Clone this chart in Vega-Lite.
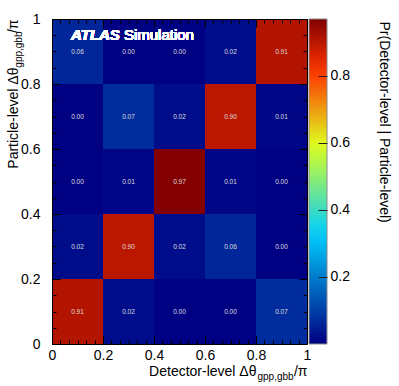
{
  "$schema": "https://vega.github.io/schema/vega-lite/v6.json",
  "width": 255,
  "height": 325,
  "autosize": {"type": "none"},
  "padding": {"left": 52, "top": 19, "right": 92, "bottom": 42},
  "background": "white",
  "config": {
    "view": {"stroke": null},
    "font": "Liberation Sans",
    "axis": {
      "zindex": 2,
      "grid": false,
      "domainColor": "black",
      "tickColor": "black",
      "tickOpacity": 1,
      "tickWidth": 1,
      "domainWidth": 1,
      "labelColor": "black",
      "titleColor": "black",
      "labelFont": "Liberation Sans",
      "titleFont": "Liberation Sans",
      "labelFontSize": 14,
      "titleFontSize": 14,
      "titleFontWeight": "normal",
      "labelFlush": false,
      "labelOverlap": false,
      "titleBaseline": "alphabetic",
      "titlePadding": 0,
      "format": "~g"
    }
  },
  "data": {
    "values": [
      {"dlo": 0.0, "dhi": 0.2, "dc": 0.1, "plo": 0.8, "phi": 1.0, "pc": 0.9, "p": 0.06},
      {"dlo": 0.2, "dhi": 0.4, "dc": 0.3, "plo": 0.8, "phi": 1.0, "pc": 0.9, "p": 0.0},
      {"dlo": 0.4, "dhi": 0.6, "dc": 0.5, "plo": 0.8, "phi": 1.0, "pc": 0.9, "p": 0.0},
      {"dlo": 0.6, "dhi": 0.8, "dc": 0.7, "plo": 0.8, "phi": 1.0, "pc": 0.9, "p": 0.02},
      {"dlo": 0.8, "dhi": 1.0, "dc": 0.9, "plo": 0.8, "phi": 1.0, "pc": 0.9, "p": 0.91},
      {"dlo": 0.0, "dhi": 0.2, "dc": 0.1, "plo": 0.6, "phi": 0.8, "pc": 0.7, "p": 0.0},
      {"dlo": 0.2, "dhi": 0.4, "dc": 0.3, "plo": 0.6, "phi": 0.8, "pc": 0.7, "p": 0.07},
      {"dlo": 0.4, "dhi": 0.6, "dc": 0.5, "plo": 0.6, "phi": 0.8, "pc": 0.7, "p": 0.02},
      {"dlo": 0.6, "dhi": 0.8, "dc": 0.7, "plo": 0.6, "phi": 0.8, "pc": 0.7, "p": 0.9},
      {"dlo": 0.8, "dhi": 1.0, "dc": 0.9, "plo": 0.6, "phi": 0.8, "pc": 0.7, "p": 0.01},
      {"dlo": 0.0, "dhi": 0.2, "dc": 0.1, "plo": 0.4, "phi": 0.6, "pc": 0.5, "p": 0.0},
      {"dlo": 0.2, "dhi": 0.4, "dc": 0.3, "plo": 0.4, "phi": 0.6, "pc": 0.5, "p": 0.01},
      {"dlo": 0.4, "dhi": 0.6, "dc": 0.5, "plo": 0.4, "phi": 0.6, "pc": 0.5, "p": 0.97},
      {"dlo": 0.6, "dhi": 0.8, "dc": 0.7, "plo": 0.4, "phi": 0.6, "pc": 0.5, "p": 0.01},
      {"dlo": 0.8, "dhi": 1.0, "dc": 0.9, "plo": 0.4, "phi": 0.6, "pc": 0.5, "p": 0.0},
      {"dlo": 0.0, "dhi": 0.2, "dc": 0.1, "plo": 0.2, "phi": 0.4, "pc": 0.3, "p": 0.02},
      {"dlo": 0.2, "dhi": 0.4, "dc": 0.3, "plo": 0.2, "phi": 0.4, "pc": 0.3, "p": 0.9},
      {"dlo": 0.4, "dhi": 0.6, "dc": 0.5, "plo": 0.2, "phi": 0.4, "pc": 0.3, "p": 0.02},
      {"dlo": 0.6, "dhi": 0.8, "dc": 0.7, "plo": 0.2, "phi": 0.4, "pc": 0.3, "p": 0.06},
      {"dlo": 0.8, "dhi": 1.0, "dc": 0.9, "plo": 0.2, "phi": 0.4, "pc": 0.3, "p": 0.0},
      {"dlo": 0.0, "dhi": 0.2, "dc": 0.1, "plo": 0.0, "phi": 0.2, "pc": 0.1, "p": 0.91},
      {"dlo": 0.2, "dhi": 0.4, "dc": 0.3, "plo": 0.0, "phi": 0.2, "pc": 0.1, "p": 0.02},
      {"dlo": 0.4, "dhi": 0.6, "dc": 0.5, "plo": 0.0, "phi": 0.2, "pc": 0.1, "p": 0.0},
      {"dlo": 0.6, "dhi": 0.8, "dc": 0.7, "plo": 0.0, "phi": 0.2, "pc": 0.1, "p": 0.0},
      {"dlo": 0.8, "dhi": 1.0, "dc": 0.9, "plo": 0.0, "phi": 0.2, "pc": 0.1, "p": 0.07}
    ]
  },
  "resolve": {"scale": {"x": "independent", "y": "independent"}},
  "layer": [
    {
      "mark": {"type": "rect", "strokeWidth": 0},
      "encoding": {
        "x": {"field": "dlo", "type": "quantitative", "scale": {"domain": [0, 1], "nice": false, "zero": false},
          "axis": {"orient": "bottom", "zindex": 2, "grid": false, "values": [0, 0.2, 0.4, 0.6, 0.8, 1], "offset": -8, "tickSize": 8, "labelPadding": 4, "domain": false,
            "title": "Detector-level Δθ", "titleX": 204, "titleY": 39, "titleAlign": "right", "titleAnchor": "end"}},
        "x2": {"field": "dhi"},
        "y": {"field": "plo", "type": "quantitative", "scale": {"domain": [0, 1], "nice": false, "zero": false},
          "axis": {"orient": "left", "zindex": 2, "grid": false, "values": [0, 0.2, 0.4, 0.6, 0.8, 1], "tickSize": -8, "labelPadding": 20,
            "title": "Particle-level Δθ", "titleAngle": -90, "titleX": -35, "titleY": 48, "titleAlign": "right", "titleAnchor": "end"}},
        "y2": {"field": "phi"},
        "color": {"field": "p", "type": "quantitative",
          "scale": {"domain": [0, 0.33, 0.592, 0.815, 0.97], "range": ["#000082", "#00cfff", "#deff1f", "#ff3300", "#820000"], "interpolate": "rgb"},
          "legend": {"orient": "none", "zindex": 0, "legendX": 257, "legendY": 0, "direction": "vertical", "gradientLength": 325, "gradientThickness": 18,
            "title": null, "labelOpacity": 0, "labelFontSize": 1, "gradientStrokeColor": "#8a8a8a", "gradientStrokeWidth": 1, "padding": 0, "offset": 0}}
      }
    },
    {
      "mark": {"type": "text", "fontSize": 6.5, "color": "#dedede", "align": "center", "baseline": "middle"},
      "encoding": {
        "x": {"field": "dc", "type": "quantitative", "scale": {"domain": [0, 1], "nice": false, "zero": false},
          "axis": {"orient": "bottom", "zindex": 2, "grid": false, "ticks": false, "labels": false, "domain": true, "title": null}},
        "y": {"field": "pc", "type": "quantitative", "scale": {"domain": [0, 1], "nice": false, "zero": false}, "axis": null},
        "text": {"field": "p", "type": "quantitative", "format": ".2f"}
      }
    },
    {
      "mark": {"type": "point", "opacity": 0},
      "encoding": {
        "x": {"field": "dc", "type": "quantitative", "scale": {"domain": [0, 1], "nice": false, "zero": false},
          "axis": {"orient": "bottom", "zindex": 2, "grid": false, "values": [0.0333, 0.0667, 0.1, 0.1333, 0.1667, 0.2333, 0.2667, 0.3, 0.3333, 0.3667, 0.4333, 0.4667, 0.5, 0.5333, 0.5667, 0.6333, 0.6667, 0.7, 0.7333, 0.7667, 0.8333, 0.8667, 0.9, 0.9333, 0.9667],
            "offset": -4, "tickSize": 4, "labels": false, "domain": false,
            "title": "gpp,gbb", "titleFontSize": 10, "titleX": 205, "titleY": 39, "titleAlign": "left", "titleAnchor": "start"}},
        "y": {"field": "pc", "type": "quantitative", "scale": {"domain": [0, 1], "nice": false, "zero": false},
          "axis": {"orient": "left", "zindex": 2, "grid": false, "values": [0.05, 0.1, 0.15, 0.25, 0.3, 0.35, 0.45, 0.5, 0.55, 0.65, 0.7, 0.75, 0.85, 0.9, 0.95],
            "tickSize": -4, "labels": false, "domain": false,
            "title": "gpp,gbb", "titleFontSize": 10, "titleAngle": -90, "titleX": -31, "titleY": 12, "titleAlign": "right", "titleAnchor": "end"}}
      }
    },
    {
      "mark": {"type": "point", "opacity": 0},
      "encoding": {
        "x": {"field": "dc", "type": "quantitative", "scale": {"domain": [0, 1], "nice": false, "zero": false},
          "axis": {"orient": "top", "zindex": 2, "grid": false, "values": [0, 0.2, 0.4, 0.6, 0.8, 1], "offset": -8, "tickSize": 8, "labels": false, "domain": false,
            "title": "/π", "titleX": 255, "titleY": 348, "titleAlign": "right", "titleAnchor": "end"}},
        "y": {"field": "pc", "type": "quantitative", "scale": {"domain": [0, 1], "nice": false, "zero": false},
          "axis": {"orient": "right", "zindex": 2, "grid": false, "values": [0, 0.2, 0.4, 0.6, 0.8, 1], "tickSize": -8, "labels": false,
            "title": "/π", "titleAngle": -90, "titleX": -290, "titleY": 0, "titleAlign": "right", "titleAnchor": "end"}}
      }
    },
    {
      "mark": {"type": "point", "opacity": 0},
      "encoding": {
        "x": {"field": "dc", "type": "quantitative", "scale": {"domain": [0, 1], "nice": false, "zero": false},
          "axis": {"orient": "top", "zindex": 2, "grid": false, "values": [0.0333, 0.0667, 0.1, 0.1333, 0.1667, 0.2333, 0.2667, 0.3, 0.3333, 0.3667, 0.4333, 0.4667, 0.5, 0.5333, 0.5667, 0.6333, 0.6667, 0.7, 0.7333, 0.7667, 0.8333, 0.8667, 0.9, 0.9333, 0.9667],
            "offset": -4, "tickSize": 4, "labels": false, "domain": false, "title": null}},
        "y": {"field": "pc", "type": "quantitative", "scale": {"domain": [0, 1], "nice": false, "zero": false},
          "axis": {"orient": "right", "zindex": 2, "grid": false, "values": [0.05, 0.1, 0.15, 0.25, 0.3, 0.35, 0.45, 0.5, 0.55, 0.65, 0.7, 0.75, 0.85, 0.9, 0.95],
            "tickSize": -4, "labels": false, "domain": false, "title": null}}
      }
    },
    {
      "mark": {"type": "point", "opacity": 0},
      "encoding": {
        "x": {"field": "dc", "type": "quantitative", "scale": {"domain": [0, 1], "nice": false, "zero": false}, "axis": null},
        "y": {"field": "p", "type": "quantitative", "scale": {"domain": [0, 0.97], "nice": false, "zero": false},
          "axis": {"orient": "right", "zindex": 3, "grid": false, "offset": 11, "values": [0.2, 0.4, 0.6, 0.8], "tickSize": 9, "tickColor": "#222222", "labelPadding": 3, "domain": false,
            "title": "Pr(Detector-level | Particle-level)", "titleAngle": 90, "titleX": 61, "titleY": 2, "titleAlign": "left", "titleAnchor": "end"}}
      }
    },
    {
      "mark": {"type": "text", "text": "ATLAS", "fontSize": 15, "fontStyle": "italic", "fontWeight": "bold", "color": "white", "align": "left", "baseline": "alphabetic"},
      "encoding": {
        "x": {"datum": 0.0745, "type": "quantitative", "scale": {"domain": [0, 1], "nice": false, "zero": false},
          "axis": {"orient": "top", "zindex": 2, "grid": false, "ticks": false, "labels": false, "domain": true, "title": null}},
        "y": {"datum": 0.935, "type": "quantitative", "scale": {"domain": [0, 1], "nice": false, "zero": false}, "axis": null}
      }
    },
    {
      "mark": {"type": "text", "text": "Simulation", "fontSize": 15, "fontWeight": "normal", "color": "white", "align": "left", "baseline": "alphabetic"},
      "encoding": {
        "x": {"datum": 0.282, "type": "quantitative", "scale": {"domain": [0, 1], "nice": false, "zero": false}, "axis": null},
        "y": {"datum": 0.935, "type": "quantitative", "scale": {"domain": [0, 1], "nice": false, "zero": false}, "axis": null}
      }
    }
  ]
}
